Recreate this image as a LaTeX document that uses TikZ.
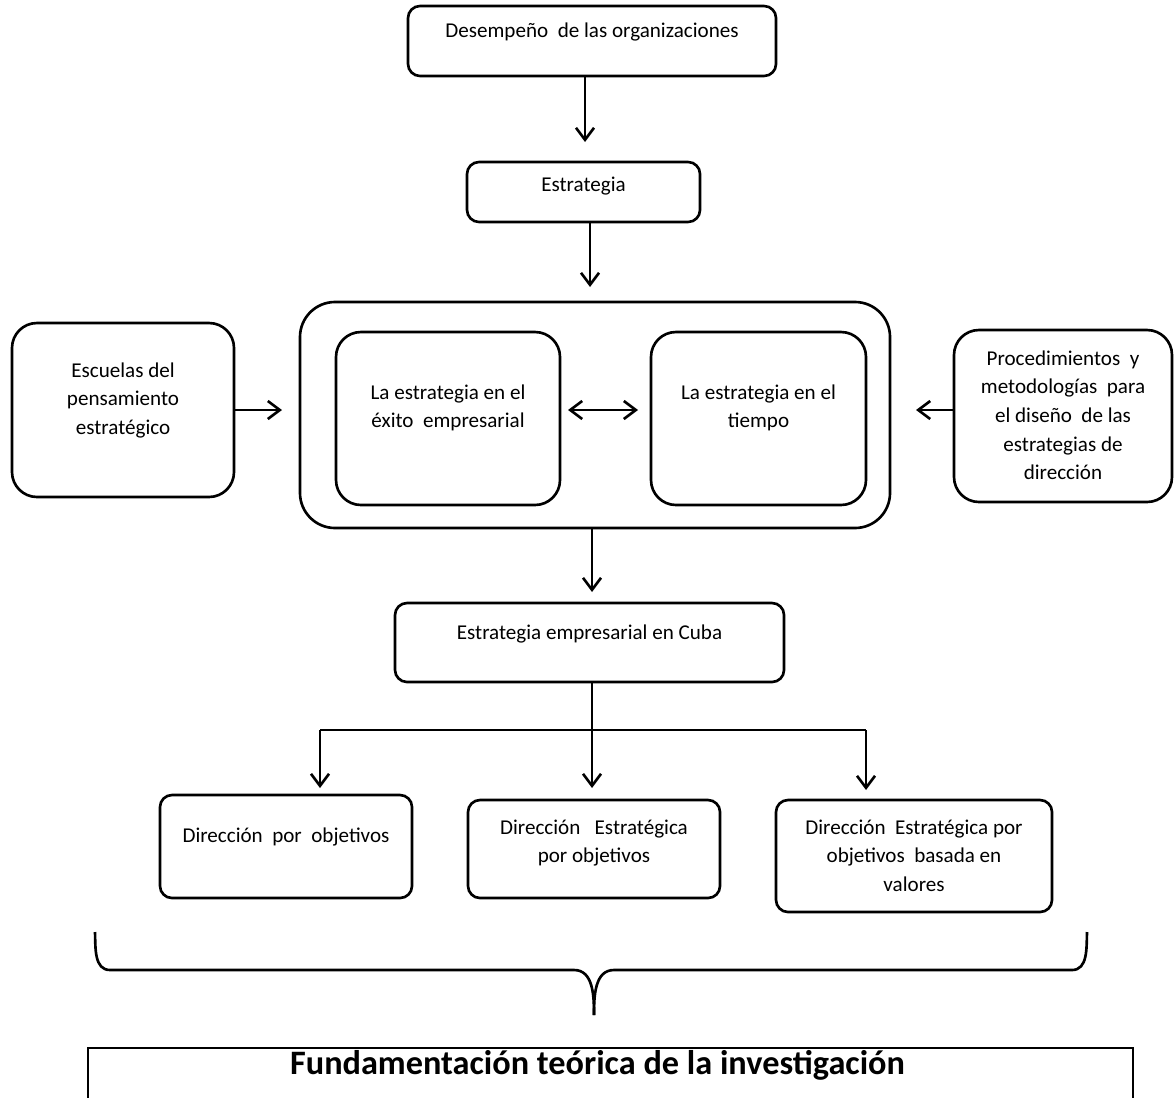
\documentclass[tikz,border=0pt]{standalone}
\usepackage{fontspec}
\setmainfont{Carlito}
\usetikzlibrary{arrows.meta}
\tikzset{
    box/.style={rectangle,rounded corners=2.4mm,draw=black,line width=1.5pt,inner sep=0},
    bigbox/.style={box,rounded corners=5mm},
    outer/.style={box,rounded corners=7mm},
    txt/.style={anchor=north,align=center,inner sep=0,font=\fontsize{12}{16.3}\selectfont},
    arr/.style={line width=1.5pt,-{Straight Barb[length=2.4mm,width=3.6mm]}},
    arrs/.style={line width=1.5pt,{Straight Barb[length=2.4mm,width=3.6mm]}-{Straight Barb[length=2.4mm,width=3.6mm]}}
}

\begin{document}
\begin{tikzpicture}[x=0.2mm,y=-0.2mm]
    \useasboundingbox (0,0) rectangle (1174,1097);

    \node[box,minimum width=73.6mm,minimum height=14mm,
        label={[txt,yshift=-3.5mm]north:Desempeño~ de las organizaciones}] (des) at (592,41) {};
    \node[box,minimum width=46.6mm,minimum height=12mm,
        label={[txt,yshift=-3.1mm]north:Estrategia}] (est) at (583.5,192) {};
    \node[outer,minimum width=118mm,minimum height=45.2mm] (tiempo) at (595,415) {};
    \node[bigbox,minimum width=44.8mm,minimum height=34.6mm,
        label={[txt,yshift=-10.7mm]north:La estrategia en el\\éxito~ empresarial}] (exito) at (448,418.5) {};
    \node[bigbox,minimum width=43mm,minimum height=34.6mm,
        label={[txt,yshift=-10.7mm]north:La estrategia en el\\tiempo}] (enel) at (758.5,418.5) {};
    \node[bigbox,minimum width=44.4mm,minimum height=34.8mm,
        label={[txt,yshift=-8.1mm]north:Escuelas del\\pensamiento\\estratégico}] (escuelas) at (123,410) {};
    \node[bigbox,minimum width=43.6mm,minimum height=34.4mm,
        label={[txt,yshift=-4.3mm]north:Procedimientos~ y\\metodologías~ para\\el diseño~ de las\\estrategias de\\dirección}] (proc) at (1063,416) {};
    \node[box,minimum width=77.8mm,minimum height=15.8mm,
        label={[txt,yshift=-4.5mm]north:Estrategia empresarial en Cuba}] (cuba) at (589.5,642.5) {};
    \node[box,minimum width=50.4mm,minimum height=20.6mm,
        label={[txt,yshift=-6.7mm]north:Dirección~ por~ objetivos}] (dpo) at (286,846.5) {};
    \node[box,minimum width=50.4mm,minimum height=19.6mm,
        label={[txt,yshift=-4.1mm]north:Dirección~~ Estratégica\\por objetivos}] (depo) at (594,849) {};
    \node[box,minimum width=55.2mm,minimum height=22.4mm,
        label={[txt,yshift=-4.1mm]north:Dirección~ Estratégica por\\objetivos~ basada en\\valores}] (valores) at (914,856) {};
    \node[rectangle,draw=black,line width=1.5pt,minimum width=209mm,minimum height=12.4mm,inner sep=0,
        label={[anchor=base,inner sep=0,xshift=-2.6mm,yshift=-5.6mm,font=\bfseries\fontsize{19.5}{22}\selectfont]north:Fundamentación teórica de la investigación}] (fund) at (610.5,1079) {};

    \coordinate (a1) at (585,142);
    \coordinate (a2) at (590,287);
    \coordinate (a3) at (282,410);
    \coordinate (a4) at (916,410);
    \coordinate (a5) at (592,592);
    \coordinate (b1) at (568,410);
    \coordinate (b2) at (638,410);
    \coordinate (fork) at (592,730);
    \coordinate (t1) at (320,788);
    \coordinate (t2) at (592,788);
    \coordinate (t3) at (866,790);

    \draw[arr] (des.south -| a1) -- (a1);
    \draw[arr] (est.south -| a2) -- (a2);
    \draw[arr] (escuelas.east |- a3) -- (a3);
    \draw[arr] (proc.west |- a4) -- (a4);
    \draw[arrs] (b1) -- (b2);
    \draw[arr] (tiempo.south -| a5) -- (a5);
    \draw[line width=1.5pt] (cuba.south -| fork) -- (fork);
    \draw[line width=1.5pt] (fork -| t1) -- (fork -| t3);
    \draw[arr] (fork -| t1) -- (t1);
    \draw[arr] (fork) -- (t2);
    \draw[arr] (fork -| t3) -- (t3);

    \coordinate (bl) at (95,932);
    \coordinate (br) at (1087,932);
    \coordinate (bm) at (594,1015);
    \draw[line width=1.5pt] (bl) to[out=-88,in=180] (110,970) -- (574,970) to[out=0,in=90] (bm);
    \draw[line width=1.5pt] (br) to[out=-92,in=0] (1072,970) -- (614,970) to[out=180,in=90] (bm);
\end{tikzpicture}
\end{document}
